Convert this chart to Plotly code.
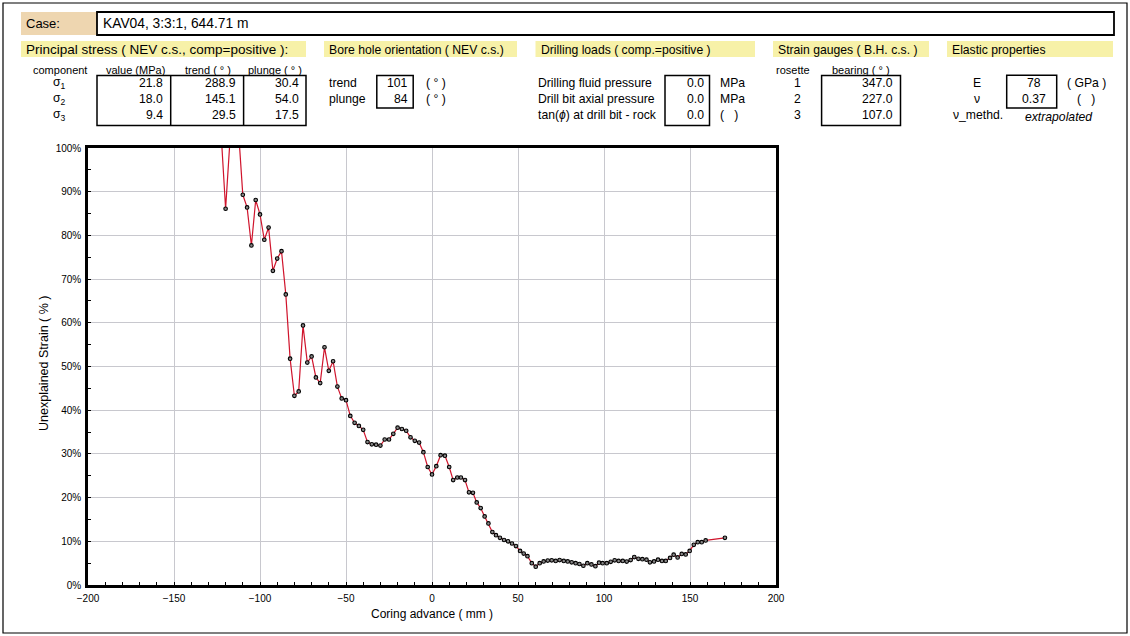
import plotly.graph_objects as go

# ---- data -------------------------------------------------------------
coring_advance_mm = [
    -122.5, -120, -117.5, -115, -112.5, -110, -107.5, -105, -102.5, -100,
    -97.5, -95, -92.5, -90, -87.5, -85, -82.5, -80, -77.5, -75,
    -72.5, -70, -67.5, -65, -62.5, -60, -57.5, -55, -52.5, -50,
    -47.5, -45, -42.5, -40, -37.5, -35, -32.5, -30, -27.5, -25,
    -22.5, -20, -17.5, -15, -12.5, -10, -7.5, -5, -2.5, 0,
    2.5, 5, 7.5, 10,
    12.3, 14.7, 16.8, 19.2, 21.5, 23.8, 26.0, 28.3, 30.6, 32.8,
    35.1, 37.2, 39.5, 41.9, 44.2, 46.5, 48.8, 51.2, 53.3,
    55.5, 58.0, 60.3, 62.6, 64.9, 67.3, 69.6, 71.9, 74.2, 76.6,
    78.9, 81.2, 83.5, 85.7, 88.0, 90.3, 92.7, 95.0, 97.1, 99.2,
    101.6, 103.9, 106.2, 108.5, 110.9, 113.2,
    115.5, 117.6, 120.0, 122.3, 124.7, 126.7, 129.1, 131.4, 133.7, 135.9,
    138.4, 140.5, 142.8, 145.2, 147.5, 149.8, 152.2, 154.5, 156.8, 159.1,
    170.3,
]
unexplained_strain_pct = [
    102.6, 86.1, 101.5, 112, 104, 89.3, 86.4, 77.7, 88.1, 84.8,
    79.0, 81.8, 71.9, 74.7, 76.4, 66.5, 51.8, 43.3, 44.3, 59.4,
    50.9, 52.3, 47.5, 46.2, 54.4, 49.0, 51.2, 45.4, 42.7, 42.3,
    38.7, 37.1, 36.4, 35.5, 32.7, 32.2, 32.1, 31.9, 33.3, 33.3,
    34.6, 36.0, 35.7, 35.3, 33.8, 33.0, 32.6, 30.4, 27.0, 25.3,
    27.2, 29.7, 29.6, 27.0,
    24.0, 24.6, 24.6, 24.0, 21.2, 21.1, 18.9, 17.6, 15.7, 14.1,
    12.1, 11.4, 10.8, 10.3, 10.0, 9.5, 8.9, 7.8, 7.2,
    6.6, 5.0, 4.2, 5.0, 5.4, 5.6, 5.65, 5.5, 5.7, 5.5,
    5.4, 5.2, 5.0, 4.8, 4.4, 5.0, 4.7, 4.3, 5.1, 5.0,
    5.0, 5.3, 5.65, 5.5, 5.5, 5.35,
    5.7, 6.4, 6.0, 5.9, 5.8, 5.2, 5.4, 5.8, 5.5, 5.5,
    6.2, 6.95, 6.3, 7.1, 7.0, 7.8, 9.2, 9.8, 9.8, 10.2,
    10.8,
]

case_name = "KAV04, 3:3:1, 644.71 m"

stress_components = ["σ<sub>1</sub>", "σ<sub>2</sub>", "σ<sub>3</sub>"]
stress_value_mpa = ["21.8", "18.0", "9.4"]
stress_trend_deg = ["288.9", "145.1", "29.5"]
stress_plunge_deg = ["30.4", "54.0", "17.5"]

borehole_labels = ["trend", "plunge"]
borehole_values = ["101", "84"]

drilling_labels = ["Drilling fluid pressure", "Drill bit axial pressure",
                   "tan(<i>ϕ</i>) at drill bit - rock"]
drilling_values = ["0.0", "0.0", "0.0"]
drilling_units = ["MPa", "MPa", "(   )"]

rosettes = ["1", "2", "3"]
rosette_bearing_deg = ["347.0", "227.0", "107.0"]

elastic_labels = ["E", "ν"]
elastic_values = ["78", "0.37"]
elastic_units = ["( GPa )", "(   )"]
nu_method = "extrapolated"

# ---- page geometry (pixels) -------------------------------------------
W, H = 1130, 636
PL, PR, PT, PB = 88, 776, 148, 585  # plot area edges

def fx(p):
    return (p - PL) / (PR - PL)

def fy(p):
    return (PB - p) / (PB - PT)

FONT = "Liberation Sans, Arial, sans-serif"
TAN = "#EED6B0"
YELLOW = "#F7F1A8"
FS = 12.2  # body text size

shapes = []
annotations = []

def rect(x0, y0, x1, y1, fill=None, line_w=1.5, line_c="black"):
    shapes.append(dict(
        type="rect", xref="paper", yref="paper",
        x0=fx(x0), x1=fx(x1), y0=fy(y1), y1=fy(y0),
        fillcolor=fill if fill else "rgba(0,0,0,0)",
        line=dict(color=line_c, width=line_w), layer="above"))

def vline(x, y0, y1, w=1.5):
    shapes.append(dict(
        type="line", xref="paper", yref="paper",
        x0=fx(x), x1=fx(x), y0=fy(y0), y1=fy(y1),
        line=dict(color="black", width=w), layer="above"))

def text(x, y, s, size=FS, anchor="left", italic=False, angle=0):
    if italic:
        s = "<i>" + s + "</i>"
    annotations.append(dict(
        x=fx(x), y=fy(y), xref="paper", yref="paper", text=s,
        showarrow=False, xanchor=anchor, yanchor="middle", textangle=angle,
        font=dict(family=FONT, size=size, color="black")))

# outer frame
rect(3, 3, 1127, 633, line_w=1.2)

# case line
rect(21, 12, 97, 35, fill=TAN, line_w=0)
rect(97, 12, 1114, 35, line_w=1.8)
text(24, 23.5, "Case:", size=13)
text(101, 23.5, case_name, size=13.8)

# section headings
for x0, x1, label, size in [
    (21, 306, "Principal stress ( NEV c.s., comp=positive ):", 13.5),
    (324, 517, "Bore hole orientation ( NEV c.s.)", FS),
    (535.5, 755, "Drilling loads ( comp.=positive )", FS),
    (773, 929, "Strain gauges ( B.H. c.s. )", FS),
    (947, 1113, "Elastic properties", FS),
]:
    rect(x0, 41, x1, 57, fill=YELLOW, line_w=0)
    text(x0 + 3, 49.5, label, size=size)

ROWS = [83, 99, 115]
SUB = 11

# principal stress table
text(60, 69.5, "component", size=SUB, anchor="center")
text(135, 69.5, "value (MPa)", size=SUB, anchor="center")
text(208, 69.5, "trend ( ° )", size=SUB, anchor="center")
text(274.5, 69.5, "plunge ( ° )", size=SUB, anchor="center")
rect(97, 75.5, 306, 125.5)
vline(170.7, 75.5, 125.5)
vline(243.6, 75.5, 125.5)
for i, y in enumerate(ROWS):
    text(59, y, stress_components[i], anchor="center")
    text(165, y, stress_value_mpa[i], anchor="right")
    text(237.5, y, stress_trend_deg[i], anchor="right")
    text(300.5, y, stress_plunge_deg[i], anchor="right")

# bore hole orientation
rect(376.8, 75.5, 413.2, 108)
for i, y in enumerate(ROWS[:2]):
    text(326.8, y, borehole_labels[i])
    text(409.5, y, borehole_values[i], anchor="right")
    text(424, y, "( ° )")

# drilling loads
rect(665, 75.5, 709.5, 125.5)
for i, y in enumerate(ROWS):
    text(536, y, drilling_labels[i])
    text(706, y, drilling_values[i], anchor="right")
    text(718.4, y, drilling_units[i])

# strain gauges
text(793, 69.5, "rosette", size=SUB, anchor="center")
text(861, 69.5, "bearing ( ° )", size=SUB, anchor="center")
rect(821.6, 75.5, 900.5, 125.5)
for i, y in enumerate(ROWS):
    text(797.4, y, rosettes[i], anchor="center")
    text(895, y, rosette_bearing_deg[i], anchor="right")

# elastic properties
rect(1006.7, 75.3, 1056.7, 108)
for i, y in enumerate(ROWS[:2]):
    text(977, y, elastic_labels[i], anchor="center")
    text(1034, y, elastic_values[i], anchor="center")
text(1065.3, ROWS[0], elastic_units[0])
text(1086, ROWS[1], elastic_units[1], anchor="center")
text(977.7, 114.7, "ν_methd.", anchor="center")
text(1059, 116.7, nu_method, anchor="center", italic=True)

# axis titles
text((PL + PR) / 2, 614, "Coring advance ( mm )", size=12, anchor="center")
text(44, 364, "Unexplained Strain ( % )", size=12.5, anchor="center", angle=-90)

# ---- chart -------------------------------------------------------------
fig = go.Figure()
fig.add_trace(go.Scatter(
    x=coring_advance_mm, y=unexplained_strain_pct, mode="lines+markers",
    line=dict(color="#D0142C", width=1.2),
    marker=dict(symbol="circle", size=3.6, color="#8a8a8a",
                line=dict(color="black", width=1.1)),
    showlegend=False, hoverinfo="x+y"))

axis_common = dict(
    showline=True, mirror=True, linecolor="black", linewidth=2.5,
    showgrid=True, gridcolor="#C8C8CE", gridwidth=1,
    ticks="inside", ticklen=3, tickcolor="black", tickwidth=1,
    zeroline=False, ticklabelstandoff=2,
    tickfont=dict(family=FONT, size=10, color="black"),
)
fig.update_xaxes(range=[-200, 200], dtick=50, tick0=0,
                 minor=dict(dtick=10, ticks="inside", ticklen=3,
                            tickcolor="black", showgrid=False),
                 **axis_common)
fig.update_yaxes(range=[0, 100], dtick=10, tick0=0, ticksuffix="%",
                 minor=dict(dtick=5, ticks="inside", ticklen=3,
                            tickcolor="black", showgrid=False),
                 **axis_common)

fig.update_layout(
    width=W, height=H,
    margin=dict(l=PL, r=W - PR, t=PT, b=H - PB, pad=0),
    paper_bgcolor="white", plot_bgcolor="white",
    shapes=shapes, annotations=annotations,
    font=dict(family=FONT, size=10, color="black"),
)

fig.write_html("out.html")
